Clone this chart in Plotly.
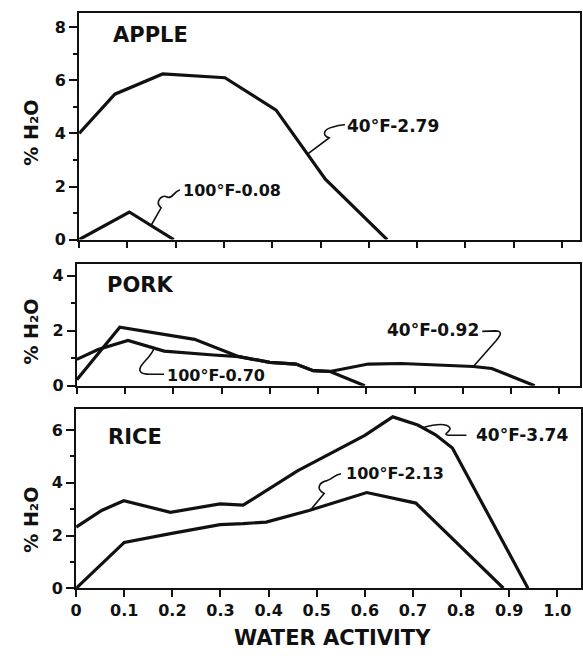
import numpy as np
import plotly.graph_objects as go

W, H = 583, 659

# ---------------- data ----------------
x_tick_vals = [0, 0.1, 0.2, 0.3, 0.4, 0.5, 0.6, 0.7, 0.8, 0.9, 1.0]
x_tick_text = ["0", "0.1", "0.2", "0.3", "0.4", "0.5", "0.6", "0.7", "0.8", "0.9", "1.0"]

apple_40_x = [0, 0.074, 0.173, 0.302, 0.408, 0.51, 0.638]
apple_40_y = [4.0, 5.48, 6.24, 6.1, 4.88, 2.28, 0]
apple_100_x = [0, 0.104, 0.196]
apple_100_y = [0, 1.04, 0]

pork_40_x = [0, 0.089, 0.244, 0.336, 0.40, 0.454, 0.49, 0.525, 0.604, 0.672, 0.822, 0.86, 0.949]
pork_40_y = [0.22, 2.13, 1.69, 1.06, 0.85, 0.79, 0.55, 0.52, 0.79, 0.81, 0.70, 0.63, 0]
pork_100_x = [0, 0.044, 0.106, 0.181, 0.283, 0.336, 0.40, 0.454, 0.49, 0.525, 0.597]
pork_100_y = [0.96, 1.32, 1.65, 1.26, 1.12, 1.06, 0.85, 0.79, 0.55, 0.52, 0]

rice_40_x = [0, 0.053, 0.099, 0.196, 0.299, 0.347, 0.46, 0.55, 0.60, 0.658, 0.71, 0.747, 0.782, 0.939]
rice_40_y = [2.32, 2.95, 3.32, 2.88, 3.2, 3.15, 4.45, 5.3, 5.8, 6.5, 6.19, 5.82, 5.32, 0]
rice_100_x = [0, 0.10, 0.196, 0.299, 0.347, 0.395, 0.484, 0.604, 0.706, 0.888]
rice_100_y = [0, 1.74, 2.07, 2.41, 2.45, 2.51, 2.95, 3.63, 3.23, 0]

panel_names = ["APPLE", "PORK", "RICE"]
labels = {
    "apple_40": "40°F-2.79", "apple_100": "100°F-0.08",
    "pork_40": "40°F-0.92", "pork_100": "100°F-0.70",
    "rice_40": "40°F-3.74", "rice_100": "100°F-2.13",
}
y_title = "% H₂O"
x_title = "WATER ACTIVITY"

# ---------------- layout geometry (pixels) ----------------
geom = {
    1: dict(left=74.0, x1=562.7, right=581.0, top=12.7, bottom=243.3, ppu=26.95),
    2: dict(left=71.7, x1=560.0, right=581.0, top=268.3, bottom=391.7, ppu=27.9),
    3: dict(left=71.0, x1=558.0, right=582.0, top=415.0, bottom=597.3, ppu=26.77),
}

FONT = "DejaVu Sans"
BLACK = "#111111"

fig = go.Figure()

series = [
    (1, apple_40_x, apple_40_y), (1, apple_100_x, apple_100_y),
    (2, pork_40_x, pork_40_y), (2, pork_100_x, pork_100_y),
    (3, rice_40_x, rice_40_y), (3, rice_100_x, rice_100_y),
]
for p, xs, ys in series:
    fig.add_trace(go.Scatter(
        x=xs, y=ys, mode="lines",
        line=dict(color=BLACK, width=3.2),
        xaxis="x" if p == 1 else f"x{p}", yaxis="y" if p == 1 else f"y{p}",
        showlegend=False, hoverinfo="skip"))

y_ticks = {1: [0, 2, 4, 6, 8], 2: [0, 2, 4], 3: [0, 2, 4, 6]}

layout = dict(width=W, height=H, margin=dict(l=0, r=0, t=0, b=0),
              paper_bgcolor="white", plot_bgcolor="white", showlegend=False,
              font=dict(family=FONT, color=BLACK, size=16, weight="bold"))

for p, g in geom.items():
    xs = "xaxis" if p == 1 else f"xaxis{p}"
    ys = "yaxis" if p == 1 else f"yaxis{p}"
    ppx = g["x1"] - g["left"]
    xr = (g["right"] - g["left"]) / ppx
    yr = (g["bottom"] - g["top"]) / g["ppu"]
    layout[xs] = dict(
        domain=[g["left"] / W, g["right"] / W], range=[0, xr],
        anchor="y" if p == 1 else f"y{p}",
        tickvals=x_tick_vals, ticktext=x_tick_text,
        showticklabels=(p == 3), ticks="outside", ticklen=7 if p == 3 else 6,
        tickwidth=1.5, tickcolor=BLACK,
        showline=True, linecolor=BLACK, linewidth=2, mirror=True,
        showgrid=False, zeroline=False,
        tickfont=dict(family=FONT, size=16, color=BLACK, weight="bold"),
    )
    layout[ys] = dict(
        domain=[1 - g["bottom"] / H, 1 - g["top"] / H], range=[0, yr],
        anchor="x" if p == 1 else f"x{p}",
        tickvals=y_ticks[p], ticks="outside", ticklen=8, tickwidth=1.8,
        tickcolor=BLACK,
        minor=dict(dtick=1, tick0=1, ticks="outside", ticklen=4, tickwidth=1.5,
                   tickcolor=BLACK, showgrid=False),
        showline=True, linecolor=BLACK, linewidth=2, mirror=True,
        showgrid=False, zeroline=False,
        tickfont=dict(family=FONT, size=16, color=BLACK, weight="bold"),
    )

fig.update_layout(**layout)


def d2px(p, x, y):
    g = geom[p]
    return (g["left"] + x * (g["x1"] - g["left"]), g["bottom"] - y * g["ppu"])


def P(px, py):
    return f"{px / W:.5f},{1 - py / H:.5f}"


shapes = []
leader_specs = [
    (1, apple_100_x, apple_100_y, 0.149,
     [("L", [(157, 211)]), ("C", [(150, 205), (158, 197), (163, 200)]), ("C", [(168, 203), (170, 194), (176, 193)])]),
    (1, apple_40_x, apple_40_y, 0.473,
     [("L", [(327, 140)]), ("C", [(319, 137), (322, 131), (331, 129)]), ("C", [(337, 127), (338, 127), (343, 126.5)])]),
    (2, pork_100_x, pork_100_y, 0.160,
     [("C", [(147, 362), (138, 368), (136, 373)]), ("C", [(134, 378), (138, 380), (145, 380)]), ("L", [(160, 380)])]),
    (2, pork_40_x, pork_40_y, 0.822,
     [("L", [(496, 346)]), ("C", [(501, 340), (503, 336), (495, 336)]), ("L", [(482, 336.5)])]),
    (3, rice_40_x, rice_40_y, 0.72,
     [("C", [(433, 431), (445, 429), (449, 434)]), ("C", [(452, 438), (440, 441), (448, 442)]), ("L", [(466, 442)])]),
    (3, rice_100_x, rice_100_y, 0.487,
     [("L", [(322, 501)]), ("C", [(314, 497), (316, 490), (325, 488)]), ("C", [(331, 486), (332, 482), (339, 481)])]),
]
for p, xs, ys, xd, segs in leader_specs:
    yd = float(np.interp(xd, xs, ys))
    sx, sy = d2px(p, xd, yd)
    path = f"M{P(sx, sy)}"
    for cmd, pts in segs:
        path += f" {cmd}" + " ".join(P(*q) for q in pts)
    shapes.append(dict(type="path", path=path, xref="paper", yref="paper",
                       line=dict(color=BLACK, width=1.6)))
fig.update_layout(shapes=shapes)

ann = []


def add_text(text, px, py, size, xanchor="left", angle=0):
    ann.append(dict(text=text, x=px / W, y=1 - py / H, xref="paper", yref="paper",
                    xanchor=xanchor, yanchor="middle", showarrow=False,
                    textangle=angle,
                    font=dict(family=FONT, size=size, color=BLACK, weight="bold")))


# panel titles
add_text(panel_names[0], 146.7, 35.5, 21, "center")
add_text(panel_names[1], 135.8, 289, 21, "center")
add_text(panel_names[2], 131, 444, 21, "center")

# curve labels
add_text(labels["apple_100"], 177, 193, 16)
add_text(labels["apple_40"], 343, 127.5, 17)
add_text(labels["pork_100"], 160.5, 381, 16)
add_text(labels["pork_40"], 481, 335.5, 17, "right")
add_text(labels["rice_40"], 474, 442, 17)
add_text(labels["rice_100"], 342, 481, 16)

# y axis labels
for yc in (135, 337, 528):
    add_text(y_title, 25, yc, 19, "center", -90)

# x axis title
add_text(x_title, 330, 647.5, 21, "center")

fig.update_layout(annotations=ann)

fig.write_html(
    "out.html",
    config={"displayModeBar": False},
    post_script="document.body.style.margin='0';document.body.style.overflow='hidden';",
)
